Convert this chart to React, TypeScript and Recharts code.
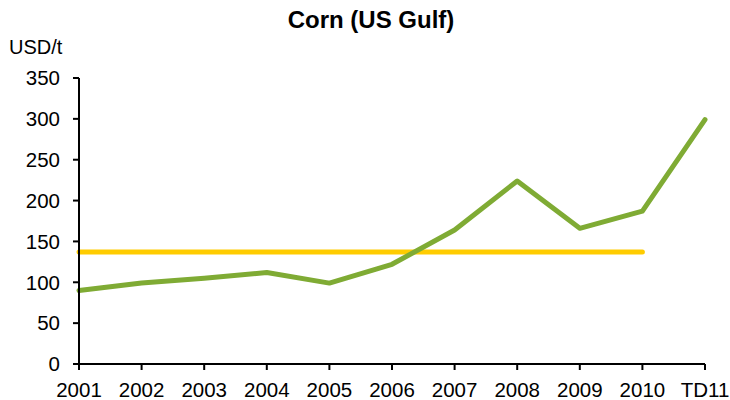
import { LineChart, Line, XAxis, YAxis } from 'recharts'

// 연도별 옥수수(US Gulf) 가격, USD/t
const years = ['2001', '2002', '2003', '2004', '2005', '2006', '2007', '2008', '2009', '2010', 'TD11']
const cornPrice = [90, 99, 105, 112, 99, 122, 164, 224, 166, 187, 299]
const avgPrice = [137, 137, 137, 137, 137, 137, 137, 137, 137, 137, null]
const yTicks = [0, 50, 100, 150, 200, 250, 300, 350]

const GREEN = '#7fab34'
const YELLOW = '#ffcc00'
const FONT = '"Liberation Sans", Arial, sans-serif'

const data = years.map((year, i) => ({ year, corn: cornPrice[i], avg: avgPrice[i] }))

export default function App() {
  return (
    <div style={{ position: 'absolute', left: 0, top: 0, width: 730, height: 400, background: '#fff', fontFamily: FONT }}>
      <div style={{ position: 'absolute', left: 0, width: 742, top: 6, textAlign: 'center', fontSize: 24, fontWeight: 700, color: '#000' }}>
        Corn (US Gulf)
      </div>
      <div style={{ position: 'absolute', left: 9, top: 36, fontSize: 20, color: '#000' }}>USD/t</div>

      <LineChart width={730} height={400} data={data} margin={{ top: 78, right: 25, bottom: 0, left: 0 }}>
        <XAxis
          dataKey="year"
          height={36}
          tickSize={6}
          tickMargin={12}
          interval={0}
          axisLine={{ stroke: '#000', strokeWidth: 2 }}
          tickLine={{ stroke: '#000', strokeWidth: 2 }}
          tick={{ fill: '#000', fontSize: 20.5, fontFamily: FONT }}
        />
        <YAxis
          width={79}
          domain={[0, 350]}
          ticks={yTicks}
          interval={0}
          tickSize={6}
          tickMargin={13}
          axisLine={{ stroke: '#000', strokeWidth: 2 }}
          tickLine={{ stroke: '#000', strokeWidth: 2 }}
          tick={{ fill: '#000', fontSize: 20.5, fontFamily: FONT }}
        />
        <Line
          dataKey="avg"
          stroke={YELLOW}
          strokeWidth={5}
          strokeLinecap="round"
          dot={false}
          activeDot={false}
          isAnimationActive={false}
        />
        <Line
          dataKey="corn"
          stroke={GREEN}
          strokeWidth={5}
          strokeLinecap="round"
          strokeLinejoin="round"
          dot={false}
          activeDot={false}
          isAnimationActive={false}
        />
      </LineChart>
    </div>
  )
}
